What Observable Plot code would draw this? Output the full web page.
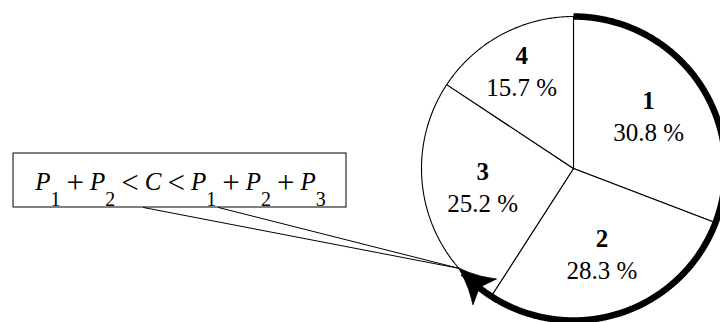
<!DOCTYPE html>
<html><head><meta charset="utf-8">
<script src="https://cdn.jsdelivr.net/npm/d3@7"></script>
<script src="https://cdn.jsdelivr.net/npm/@observablehq/plot@0.6"></script>
<style>
html,body{margin:0;padding:0;background:#fff;}
svg{display:block;}
</style></head><body><div id="chart"></div>
<script>
// ---- data ----
const sliceNames = ["1", "2", "3", "4"];
const shares = [30.8, 28.3, 25.2, 15.7];            // percent
const shareLabels = ["30.8 %", "28.3 %", "25.2 %", "15.7 %"];
const markerC = 63.6;                               // position of C on the circle, percent
const formulaTokens = ["P", "1", "+", "P", "2", "<", "C", "<", "P", "1", "+", "P", "2", "+", "P", "3"];
const formulaKinds  = ["i", "s", "o", "i", "s", "o", "i", "o", "i", "s", "o", "i", "s", "o", "i", "s"];

// ---- layout (pixels) ----
const W = 720, H = 322, CX = 573, CY = 168, R = 152;
const labelRadius = [0.6, 0.6, 0.61, 0.72];
const box = {x1: 13, x2: 346, y1: 153, y2: 207};
const calloutFeet = [143, 218];
const formulaPos = {x: 180, y: 189};
const arrowLen = 35, arrowHalf = 17.5;
const fSize = 25, subSize = 20, subDrop = 16, opSize = 31, opDrop = 3, opGap = 6;

const ux = px => (px - CX) / R;
const uy = py => (CY - py) / R;
const pt = pct => { const a = pct * 3.6 * Math.PI / 180; return {x: Math.sin(a), y: Math.cos(a)}; };

// slices
const cum = [0];
shares.forEach(s => cum.push(cum[cum.length - 1] + s));
const polys = [];
sliceNames.forEach((name, i) => {
  polys.push({slice: name, x: 0, y: 0});
  const n = Math.max(2, Math.ceil((cum[i + 1] - cum[i]) * 3.6 / 0.5));
  for (let k = 0; k <= n; k++) {
    const p = pt(cum[i] + (cum[i + 1] - cum[i]) * k / n);
    polys.push({slice: name, x: p.x, y: p.y});
  }
  polys.push({slice: name, x: 0, y: 0});
});
const labels = sliceNames.map((name, i) => {
  const p = pt((cum[i] + cum[i + 1]) / 2);
  return {name, pct: shareLabels[i], x: p.x * labelRadius[i], y: p.y * labelRadius[i]};
});

// thick arc and arrowhead toward C
const tip = pt(markerC);
const backPct = markerC - (arrowLen / R) * 180 / Math.PI / 3.6;
const back = pt(backPct);
let dx = tip.x - back.x, dy = tip.y - back.y;
const dl = Math.hypot(dx, dy); dx /= dl; dy /= dl;
const nx = -dy, ny = dx;
const L = arrowLen / R, Wd = arrowHalf / R;
const at = (t, w) => ({x: tip.x - dx * L * t + nx * Wd * w, y: tip.y - dy * L * t + ny * Wd * w});
const head = [at(0, 0), at(0.3, 0.22), at(0.6, 0.5), at(0.85, 0.8), at(1, 1), at(0.8, 0), at(1, -1), at(0.85, -0.8), at(0.6, -0.5), at(0.3, -0.22)];
const arcEnd = backPct + 3;
const arc = d3.range(0, arcEnd, 0.1).concat([arcEnd]).map(pt);

const callout = [
  {x: ux(calloutFeet[0]), y: uy(box.y2)},
  tip,
  {x: ux(calloutFeet[1]), y: uy(box.y2)}
];

const font = "'Liberation Serif', 'Times New Roman', Times, serif";
const chart = Plot.plot({
  width: W, height: H,
  marginTop: 0, marginRight: 0, marginBottom: 0, marginLeft: 0,
  x: {domain: [ux(0), ux(W)], axis: null},
  y: {domain: [uy(H), uy(0)], axis: null},
  style: {fontFamily: font, background: "white", color: "black"},
  marks: [
    Plot.line(polys, {x: "x", y: "y", z: "slice", fill: "white", stroke: "black", strokeWidth: 1.1, strokeLinejoin: "miter"}),
    Plot.line(arc, {x: "x", y: "y", stroke: "black", strokeWidth: 6.5, strokeLinecap: "butt"}),
    Plot.line(head, {x: "x", y: "y", fill: "black", stroke: "black", strokeWidth: 0.8, curve: "linear-closed"}),
    Plot.line(callout, {x: "x", y: "y", stroke: "black", strokeWidth: 1}),
    Plot.rect([box], {x1: d => ux(d.x1), x2: d => ux(d.x2), y1: d => uy(d.y1), y2: d => uy(d.y2), fill: "white", stroke: "black", strokeWidth: 1}),
    Plot.text(labels, {x: "x", y: "y", text: "name", fontWeight: "bold", fontSize: 25, dy: -16, fill: "black"}),
    Plot.text(labels, {x: "x", y: "y", text: "pct", fontSize: 25, dy: 16, fill: "black"}),
    Plot.text([formulaPos], {x: d => ux(d.x), y: d => uy(d.y), text: d => "FORMULA", fontSize: fSize, fill: "black", lineAnchor: "bottom"})
  ]
});
document.getElementById("chart").appendChild(chart);

// rich text for the formula (italic variables, lowered subscripts, larger operators)
const t = d3.select(chart).selectAll("text").filter(function() { return this.textContent === "FORMULA"; });
t.attr("dy", null);
t.selectAll("tspan").remove();
t.text(null);
let offset = 0, prevOp = false;
formulaTokens.forEach((tok, i) => {
  const kind = formulaKinds[i];
  const ts = t.append("tspan").text(tok);
  const target = kind === "s" ? subDrop : kind === "o" ? opDrop : 0;
  if (target !== offset) { ts.attr("dy", target - offset); offset = target; }
  ts.style("font-size", (kind === "s" ? subSize : kind === "o" ? opSize : fSize) + "px");
  if (kind === "i") ts.style("font-style", "italic");
  if (kind === "o") ts.attr("dx", opGap);
  else if (prevOp) ts.attr("dx", opGap);
  prevOp = kind === "o";
});
</script></body></html>
